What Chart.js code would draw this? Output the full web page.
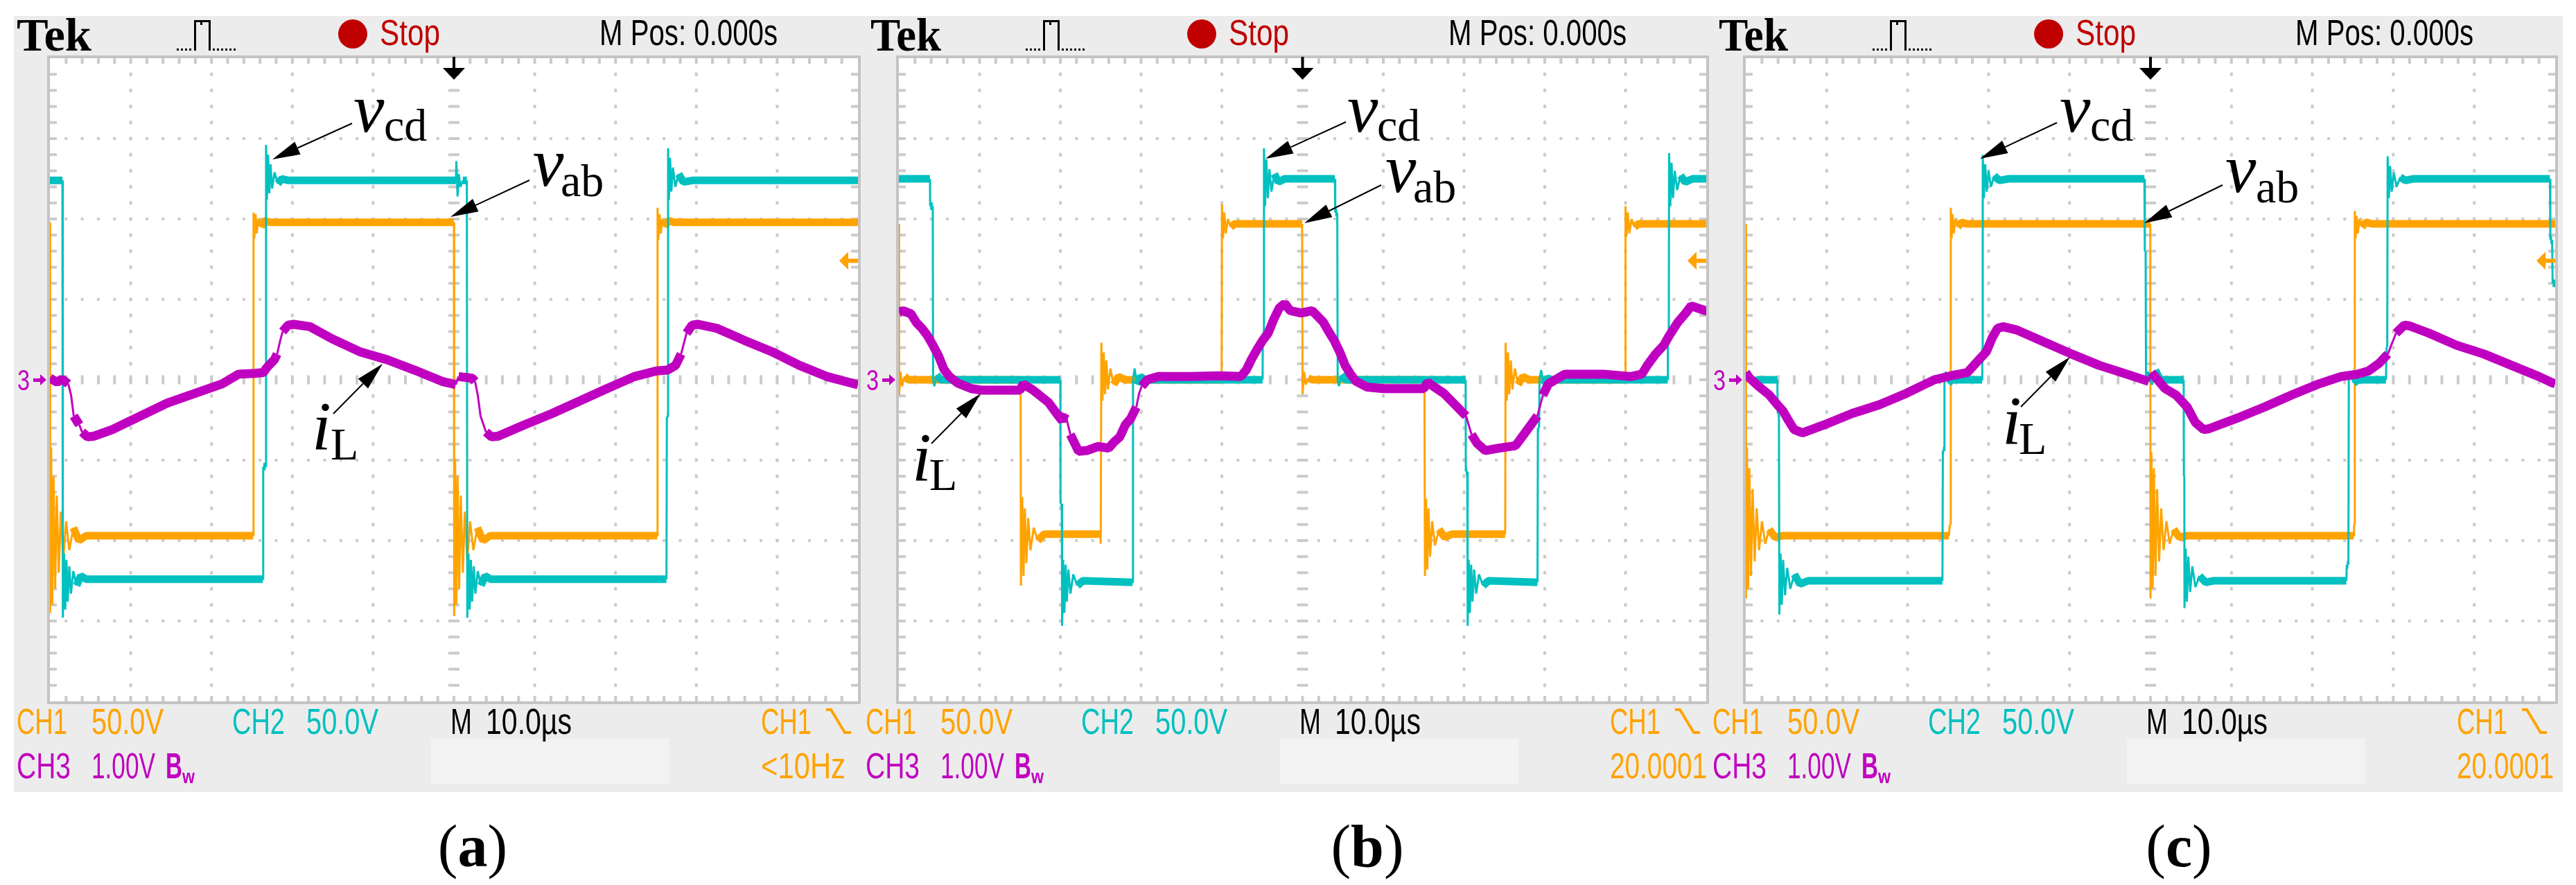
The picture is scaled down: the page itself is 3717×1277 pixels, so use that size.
<!DOCTYPE html>
<html><head><meta charset="utf-8">
<script src="https://cdn.jsdelivr.net/npm/chart.js@4.4.1/dist/chart.umd.min.js"></script>
<style>html,body{margin:0;padding:0;background:#fff;width:3717px;height:1277px;overflow:hidden;position:relative}</style>
</head><body>
<script>
// ---------- Scope settings ----------
const TIME_RANGE_US = [-50, 50];     // 10 us/div, M Pos 0.000 s at center
const VOLT_RANGE = [-200, 200];      // CH1 & CH2: 50.0 V/div, 8 divisions
const CH3_RANGE = [-4, 4];           // CH3: 1.00 V/div
const TRIGGER_LEVEL_V = 74;          // CH1 trigger level marker

// ---------- Panel (a) : [time us, value] ----------
const A_CH1 = [[-50,98],[-49.97,-145],[-49.85,-42],[-49.7,-140],[-49.55,-60],[-49.35,-130],[-49.15,-72],[-48.9,-120],[-48.65,-82],[-48.35,-112],[-48.0,-88],[-47.6,-106],[-47.1,-92],[-46.4,-100],[-45.5,-97],[-24.85,-97],[-24.8,104],[-24.7,88],[-24.55,103],[-24.4,91],[-24.2,100],[-23.9,95],[-23.5,99],[-22.8,98],[0.0,98],[0.03,-147],[0.15,-49],[0.3,-140],[0.45,-60],[0.65,-130],[0.85,-72],[1.1,-120],[1.35,-82],[1.65,-112],[2.0,-88],[2.4,-106],[2.9,-92],[3.6,-100],[4.5,-97],[25.15,-97],[25.2,107],[25.3,87],[25.45,103],[25.6,91],[25.8,100],[26.1,95],[26.5,99],[27.2,98],[50,98]];
const A_CH2 = [[-50,124],[-48.45,124],[-48.4,-148],[-48.25,-108],[-48.1,-143],[-47.95,-112],[-47.8,-138],[-47.6,-116],[-47.4,-133],[-47.1,-119],[-46.7,-128],[-46.2,-122],[-45.5,-124],[-23.65,-124],[-23.6,-54],[-23.3,-54],[-23.25,146],[-23.15,112],[-23.0,140],[-22.85,116],[-22.7,134],[-22.5,119],[-22.2,129],[-21.8,122],[-21.3,125],[-20.5,124],[0.25,124],[0.3,136],[0.45,114],[0.6,128],[0.8,120],[1.1,124],[1.6,124],[1.65,-148],[1.8,-108],[1.95,-143],[2.1,-112],[2.25,-138],[2.45,-116],[2.65,-133],[2.95,-119],[3.35,-128],[3.85,-122],[4.55,-124],[26.3,-124],[26.35,-23],[26.45,-23],[26.5,144],[26.6,112],[26.75,138],[26.9,117],[27.1,132],[27.4,120],[27.8,128],[28.4,123],[29.5,124],[50,124]];
const A_CH3 = [[-50,0.02],[-49.1,-0.03],[-48.5,0.01],[-47.73,-0.05],[-47.38,-0.19],[-47.05,-0.45],[-46.36,-0.56],[-46.02,-0.65],[-45.34,-0.71],[-44.5,-0.70],[-42.28,-0.62],[-35.48,-0.29],[-28.68,-0.05],[-26.64,0.07],[-24.6,0.08],[-23.58,0.09],[-23.24,0.14],[-22.9,0.18],[-22.22,0.25],[-21.88,0.32],[-21.54,0.47],[-21.2,0.60],[-20.52,0.68],[-19.84,0.69],[-17.8,0.66],[-15.08,0.51],[-11.67,0.35],[-8.27,0.25],[-4.87,0.12],[-1.47,-0.02],[0.23,-0.06],[0.57,0.04],[2.27,0.02],[2.61,-0.02],[2.95,-0.19],[3.29,-0.45],[3.97,-0.65],[4.65,-0.71],[5.5,-0.70],[8.73,-0.56],[12.13,-0.42],[18.93,-0.11],[22.33,0.04],[25.06,0.11],[26.41,0.12],[27.43,0.18],[28.11,0.32],[28.79,0.58],[29.47,0.68],[30.15,0.69],[32.54,0.64],[35.94,0.49],[39.34,0.35],[42.74,0.18],[46.14,0.04],[49.54,-0.05],[50,-0.06]];

// ---------- Panel (b) ----------
const B_CH1 = [[-50,97],[-49.97,-10],[-49.8,5],[-49.6,-4],[-49.3,2],[-48.8,0],[-34.92,0],[-34.88,-128],[-34.72,-73],[-34.56,-122],[-34.4,-80],[-34.2,-114],[-33.98,-86],[-33.7,-106],[-33.3,-92],[-32.8,-100],[-32.0,-96],[-25.05,-96],[-25.0,-102],[-24.92,23],[-24.78,-13],[-24.62,17],[-24.46,-9],[-24.3,12],[-24.1,-6],[-23.8,7],[-23.4,-3],[-22.8,2],[-22.0,0],[-10.02,0],[-9.98,109],[-9.85,88],[-9.7,104],[-9.5,91],[-9.25,100],[-8.9,95],[-8.4,97],[-0.05,97],[0.0,-9],[0.2,5],[0.4,-3],[0.7,1],[1.2,0],[15.1,0],[15.16,-122],[15.3,-74],[15.45,-118],[15.6,-80],[15.8,-110],[16.05,-88],[16.4,-103],[16.9,-93],[17.6,-98],[18.5,-96],[25.1,-96],[25.15,23],[25.3,-13],[25.45,17],[25.6,-9],[25.8,12],[26.0,-6],[26.3,7],[26.7,-3],[27.3,2],[28.0,0],[39.97,0],[40.0,108],[40.12,89],[40.28,104],[40.48,91],[40.75,100],[41.1,95],[41.6,97],[50,97]];
const B_CH2 = [[-50,125],[-46.15,125],[-46.12,108],[-45.8,108],[-45.76,0],[-45.6,-4],[-45.3,3],[-44.8,0],[-30.0,0],[-29.98,-77],[-29.82,-77],[-29.78,-153],[-29.65,-112],[-29.5,-145],[-29.35,-115],[-29.2,-138],[-29.0,-118],[-28.75,-133],[-28.4,-121],[-27.9,-128],[-27.2,-125],[-21.05,-126],[-21.0,0],[-20.8,7],[-20.5,-3],[-20.1,2],[-19.5,0],[-4.95,0],[-4.92,29],[-4.8,29],[-4.78,144],[-4.64,108],[-4.48,137],[-4.3,113],[-4.1,131],[-3.85,117],[-3.5,128],[-3.0,123],[-2.2,125],[4.0,125],[4.05,104],[4.3,104],[4.35,0],[4.5,-4],[4.8,3],[5.3,0],[20.2,0],[20.22,-57],[20.4,-57],[20.45,-153],[20.58,-112],[20.72,-145],[20.88,-115],[21.05,-138],[21.25,-118],[21.5,-133],[21.85,-121],[22.35,-128],[23.05,-125],[29.1,-126],[29.15,-30],[29.3,-30],[29.35,0],[29.55,6],[29.85,-3],[30.3,1],[31.0,0],[45.22,0],[45.25,22],[45.36,22],[45.4,141],[45.55,108],[45.7,135],[45.88,113],[46.1,130],[46.4,118],[46.8,127],[47.4,123],[48.3,125],[50,125]];
const B_CH3 = [[-50,0.84],[-49.5,0.86],[-48.5,0.82],[-47.82,0.71],[-47.14,0.64],[-46.46,0.55],[-45.78,0.43],[-45.1,0.30],[-44.42,0.13],[-43.74,0.04],[-42.72,-0.04],[-41.02,-0.11],[-39.65,-0.13],[-35.0,-0.13],[-34.6,-0.05],[-34.21,-0.08],[-33.5,-0.12],[-32.85,-0.17],[-31.49,-0.28],[-30.46,-0.42],[-29.78,-0.51],[-29.4,-0.42],[-28.76,-0.68],[-27.74,-0.89],[-26.72,-0.88],[-25.36,-0.83],[-24.0,-0.85],[-23.31,-0.77],[-22.63,-0.71],[-21.95,-0.56],[-21.27,-0.48],[-20.59,-0.34],[-20.25,-0.17],[-19.91,-0.08],[-19.23,0.00],[-17.87,0.04],[-13.78,0.04],[-10.38,0.05],[-7.66,0.04],[-6.98,0.12],[-6.3,0.26],[-5.62,0.38],[-4.94,0.49],[-4.26,0.58],[-3.58,0.75],[-2.9,0.89],[-2.21,0.95],[-1.53,0.86],[-0.17,0.83],[1.19,0.86],[2.55,0.72],[3.23,0.60],[3.91,0.49],[4.59,0.35],[5.27,0.18],[5.95,0.07],[6.63,-0.02],[7.99,-0.09],[10.03,-0.11],[15.0,-0.11],[15.5,-0.03],[16.17,-0.08],[17.52,-0.17],[18.89,-0.31],[20.25,-0.45],[20.93,-0.68],[21.61,-0.79],[22.63,-0.88],[24.33,-0.85],[26.37,-0.82],[27.05,-0.73],[28.07,-0.59],[29.09,-0.45],[29.77,-0.19],[30.45,-0.05],[32.49,0.07],[37.26,0.07],[40.66,0.04],[42.02,0.07],[42.7,0.18],[43.72,0.32],[44.74,0.43],[45.42,0.55],[46.44,0.71],[47.46,0.83],[48.14,0.92],[49.88,0.86],[50,0.86]];

// ---------- Panel (c) ----------
const C_CH1 = [[-50,97],[-49.97,-136],[-49.85,-42],[-49.7,-130],[-49.55,-55],[-49.35,-122],[-49.15,-68],[-48.9,-113],[-48.65,-80],[-48.35,-106],[-48.0,-88],[-47.6,-102],[-47.1,-93],[-46.4,-98],[-45.5,-97],[-24.9,-97],[-24.8,-90],[-24.7,-90],[-24.67,107],[-24.57,88],[-24.45,103],[-24.3,91],[-24.1,100],[-23.8,95],[-23.35,98],[-22.7,97],[-0.02,97],[0.0,-136],[0.12,-45],[0.27,-130],[0.42,-55],[0.62,-122],[0.82,-68],[1.07,-113],[1.32,-80],[1.62,-106],[1.97,-88],[2.37,-102],[2.87,-93],[3.57,-98],[4.5,-97],[25.1,-97],[25.15,-90],[25.21,-90],[25.24,105],[25.34,88],[25.46,102],[25.62,91],[25.82,100],[26.12,95],[26.6,98],[27.3,97],[50,97]];
const C_CH2 = [[-50,0],[-49.6,4],[-49.2,-2],[-48.5,0],[-46.1,0],[-46.05,-21],[-45.9,-21],[-45.85,-146],[-45.7,-108],[-45.55,-140],[-45.38,-112],[-45.15,-134],[-44.88,-117],[-44.5,-130],[-44.0,-121],[-43.3,-127],[-42.3,-125],[-25.7,-125],[-25.65,-44],[-25.5,-44],[-25.45,0],[-25.3,5],[-25.0,-2],[-24.5,0],[-20.8,0],[-20.78,20],[-20.74,20],[-20.72,140],[-20.58,113],[-20.42,134],[-20.22,117],[-20.0,130],[-19.7,120],[-19.3,127],[-18.7,124],[-17.5,125],[-0.75,125],[-0.7,80],[-0.6,80],[-0.55,0],[-0.3,5],[0.2,-3],[0.6,6],[1.2,0],[4.1,0],[4.13,-60],[4.18,-60],[4.2,-142],[4.35,-105],[4.5,-138],[4.68,-110],[4.9,-132],[5.17,-116],[5.55,-129],[6.05,-122],[6.8,-126],[7.8,-125],[24.2,-125],[24.25,-115],[24.45,-115],[24.5,0],[24.7,4],[25.1,-2],[25.7,0],[29.1,0],[29.15,20],[29.25,20],[29.3,139],[29.45,113],[29.6,133],[29.8,117],[30.05,129],[30.4,120],[30.85,126],[31.5,124],[32.5,125],[49.35,125],[49.4,87],[49.62,87],[49.68,60],[50,60]];
const C_CH3 = [[-50,0.09],[-49.5,0.02],[-48.43,-0.08],[-47.08,-0.19],[-46.1,-0.31],[-45.38,-0.39],[-44.7,-0.51],[-44.02,-0.62],[-43.0,-0.66],[-40.29,-0.56],[-36.89,-0.42],[-33.49,-0.31],[-30.19,-0.17],[-26.7,0.00],[-24.67,0.05],[-22.63,0.09],[-21.27,0.24],[-20.26,0.35],[-19.57,0.52],[-18.89,0.64],[-18.22,0.66],[-16.52,0.62],[-13.13,0.47],[-9.73,0.32],[-6.34,0.18],[-2.94,0.07],[-0.2,-0.02],[0.12,0.09],[1.81,-0.11],[3.17,-0.19],[4.53,-0.34],[5.54,-0.53],[6.57,-0.62],[7.2,-0.61],[10.64,-0.48],[14.04,-0.34],[17.43,-0.19],[20.83,-0.05],[23.54,0.04],[25.58,0.07],[26.94,0.11],[28.3,0.21],[29.32,0.32],[30.33,0.58],[31.35,0.68],[32.0,0.67],[34.41,0.58],[37.8,0.43],[41.2,0.32],[44.59,0.18],[47.99,0.04],[49.69,-0.04],[50,-0.05]];

// ---------- Text ----------
const HEADER_TEXTS = ['Tek', 'Stop', 'M Pos: 0.000s'];
const FOOTER_ROW1 = ['CH1', '50.0V', 'CH2', '50.0V', 'M', '10.0\u00b5s', 'CH1'];
const FOOTER_ROW2 = ['CH3', '1.00V', 'B', 'w'];
const LABEL_VCD = ['v', 'cd'], LABEL_VAB = ['v', 'ab'], LABEL_IL = ['i', 'L'];

// ---------- Styling ----------
const ORANGE = '#ffa300', CYAN = '#00c0c0', MAGENTA = '#c000c0';
const PANEL_BG = '#ececec', GRID_COL = '#cbcbcb', BORDER_COL = '#c4c4c4', STOP_RED = '#c00000';
const H = 1277, HEADER_TOP = 23, PANEL_BOTTOM = 1143, GRID_TOP = 84, GRID_BOTTOM = 1012;
const SANS = '"Liberation Sans", Arial, sans-serif', SERIF = '"Liberation Serif", "Times New Roman", serif';

const PANELS = [
  { left: 20, width: 1223, gridLeft: 72, gridRight: 1238, tekRel: -45, tekW: 108, trigText: '<10Hz', trigW: 122,
    caption: 'a', captionX: 682, ch1: A_CH1, ch2: A_CH2, ch3: A_CH3,
    notes: [
      { lab: LABEL_VCD, v: [510, 190], s: [554, 203], from: [508, 178], to: [393, 230] },
      { lab: LABEL_VAB, v: [769, 268], s: [809, 283], from: [764, 260], to: [650, 313] },
      { lab: LABEL_IL, v: [450, 648], s: [477, 663], from: [481, 597], to: [552, 525] } ] },
  { left: 1243, width: 1227, gridLeft: 1297, gridRight: 2462, tekRel: -38, tekW: 102, trigText: '20.0001', trigW: 140,
    caption: 'b', captionX: 1973, ch1: B_CH1, ch2: B_CH2, ch3: B_CH3,
    notes: [
      { lab: LABEL_VCD, v: [1944, 190], s: [1987, 203], from: [1942, 176], to: [1826, 229] },
      { lab: LABEL_VAB, v: [1999, 277], s: [2039, 292], from: [1993, 267], to: [1882, 322] },
      { lab: LABEL_IL, v: [1316, 693], s: [1341, 707], from: [1344, 640], to: [1415, 568] } ] },
  { left: 2470, width: 1228, gridLeft: 2519, gridRight: 3687, tekRel: -36, tekW: 100, trigText: '20.0001', trigW: 140,
    caption: 'c', captionX: 3144, ch1: C_CH1, ch2: C_CH2, ch3: C_CH3,
    notes: [
      { lab: LABEL_VCD, v: [2972, 190], s: [3016, 203], from: [2968, 177], to: [2857, 229] },
      { lab: LABEL_VAB, v: [3211, 277], s: [3255, 292], from: [3207, 267], to: [3094, 322] },
      { lab: LABEL_IL, v: [2889, 640], s: [2913, 655], from: [2916, 587], to: [2987, 515] } ] }
];

function txt(ctx, s, x, y, w, font, color) {
  ctx.save(); ctx.font = font; ctx.fillStyle = color; ctx.textBaseline = 'alphabetic'; ctx.textAlign = 'left';
  const m = ctx.measureText(s).width; const sx = w ? w / m : 1;
  ctx.translate(x, y); ctx.scale(sx, 1); ctx.fillText(s, 0, 0); ctx.restore();
}

function arrow(ctx, from, to, ox) {
  const [x0, y0] = [from[0] - ox, from[1]], [x1, y1] = [to[0] - ox, to[1]];
  const ang = Math.atan2(y1 - y0, x1 - x0), L = 40, hw = 10;
  const bx = x1 - L * Math.cos(ang), by = y1 - L * Math.sin(ang);
  ctx.strokeStyle = '#000'; ctx.lineWidth = 2;
  ctx.beginPath(); ctx.moveTo(x0, y0); ctx.lineTo(bx, by); ctx.stroke();
  ctx.fillStyle = '#000'; ctx.beginPath(); ctx.moveTo(x1, y1);
  ctx.lineTo(bx + hw * Math.sin(ang), by - hw * Math.cos(ang));
  ctx.lineTo(bx - hw * Math.sin(ang), by + hw * Math.cos(ang)); ctx.closePath(); ctx.fill();
}

function drawGrid(chart) {
  const { ctx, chartArea: ca, scales: { x, yI } } = chart;
  ctx.save();
  ctx.fillStyle = '#fff'; ctx.fillRect(ca.left, ca.top, ca.width, ca.height);
  ctx.fillStyle = GRID_COL;
  for (let d = -3; d <= 3; d++) {
    const py = yI.getPixelForValue(d);
    for (let k = -24; k <= 24; k++) {
      const px = x.getPixelForValue(k * 2);
      if (d === 0) ctx.fillRect(px - 2, py - 6.5, 4, 13); else ctx.fillRect(px - 2, py - 2, 4, 4);
    }
  }
  for (let i = -4; i <= 4; i++) {
    const px = x.getPixelForValue(i * 10);
    for (let k = -19; k <= 19; k++) {
      const py = yI.getPixelForValue(k * 0.2);
      if (i === 0) ctx.fillRect(px - 8, py - 2, 16, 4); else ctx.fillRect(px - 2, py - 2.5, 4, 5);
    }
  }
  for (let k = -24; k <= 24; k++) {
    const px = x.getPixelForValue(k * 2);
    ctx.fillRect(px - 2, ca.top, 4, 8); ctx.fillRect(px - 2, ca.bottom - 8, 4, 8);
  }
  for (let k = -19; k <= 19; k++) {
    const py = yI.getPixelForValue(k * 0.2);
    ctx.fillRect(ca.left, py - 2, 10, 4); ctx.fillRect(ca.right - 10, py - 2, 10, 4);
  }
  ctx.strokeStyle = BORDER_COL; ctx.lineWidth = 4;
  ctx.strokeRect(ca.left - 2, ca.top - 2, ca.width + 4, ca.height + 4);
  ctx.restore();
}

function scopePlugin(p) {
  return {
    id: 'scope',
    beforeDraw(chart) {
      const ctx = chart.ctx, ca = chart.chartArea, gx = ca.left - 3;
      ctx.save();
      ctx.fillStyle = PANEL_BG; ctx.fillRect(0, HEADER_TOP, chart.width, PANEL_BOTTOM - HEADER_TOP);
      ctx.fillStyle = '#f3f3f3'; ctx.fillRect(gx + 553, 1066, 344, 65);
      // header
      txt(ctx, HEADER_TEXTS[0], gx + p.tekRel, 73, p.tekW, 'bold 68px ' + SERIF, '#000');
      ctx.fillStyle = '#000';
      for (let xx = gx + 186; xx < gx + 209; xx += 6) ctx.fillRect(xx, 70, 3, 3);
      ctx.fillRect(gx + 211, 29, 3, 44); ctx.fillRect(gx + 211, 29, 9, 3);
      ctx.fillRect(gx + 220, 29, 3, 7); ctx.fillRect(gx + 223, 29, 11, 3);
      ctx.fillRect(gx + 232, 29, 3, 44);
      for (let xx = gx + 238; xx < gx + 270; xx += 6) ctx.fillRect(xx, 70, 3, 3);
      ctx.fillStyle = STOP_RED; ctx.beginPath(); ctx.ellipse(gx + 440, 49, 21, 21, 0, 0, Math.PI * 2); ctx.fill();
      txt(ctx, HEADER_TEXTS[1], gx + 479, 65, 87, '51px ' + SANS, STOP_RED);
      txt(ctx, HEADER_TEXTS[2], gx + 796, 65, 257, '51px ' + SANS, '#000');
      // footer row 1
      const F = '51px ' + SANS;
      txt(ctx, FOOTER_ROW1[0], gx - 45, 1059, 73, F, ORANGE);
      txt(ctx, FOOTER_ROW1[1], gx + 63, 1059, 104, F, ORANGE);
      txt(ctx, FOOTER_ROW1[2], gx + 266, 1059, 76, F, CYAN);
      txt(ctx, FOOTER_ROW1[3], gx + 373, 1059, 104, F, CYAN);
      txt(ctx, FOOTER_ROW1[4], gx + 581, 1059, 31, F, '#000');
      txt(ctx, FOOTER_ROW1[5], gx + 632, 1059, 124, F, '#000');
      txt(ctx, FOOTER_ROW1[6], gx + 1029, 1059, 73, F, ORANGE);
      ctx.strokeStyle = ORANGE; ctx.lineWidth = 4; ctx.beginPath();
      ctx.moveTo(gx + 1123, 1024); ctx.lineTo(gx + 1130, 1024); ctx.lineTo(gx + 1150, 1057); ctx.lineTo(gx + 1159, 1057); ctx.stroke();
      // footer row 2
      txt(ctx, FOOTER_ROW2[0], gx - 45, 1123, 78, F, MAGENTA);
      txt(ctx, FOOTER_ROW2[1], gx + 63, 1123, 92, F, MAGENTA);
      txt(ctx, FOOTER_ROW2[2], gx + 170, 1123, 24, 'bold 51px ' + SANS, MAGENTA);
      txt(ctx, FOOTER_ROW2[3], gx + 194, 1130, 18, 'bold 28px ' + SANS, MAGENTA);
      txt(ctx, p.trigText, gx + 1029, 1123, p.trigW, F, ORANGE);
      // caption
      const cx = p.captionX - p.left;
      ctx.font = '86px ' + SERIF; const wl = ctx.measureText('(').width, wr = ctx.measureText(')').width;
      ctx.font = 'bold 86px ' + SERIF; const wa = ctx.measureText(p.caption).width;
      let x0 = cx - (wl + wa + wr) / 2;
      ctx.fillStyle = '#000'; ctx.textBaseline = 'alphabetic';
      ctx.font = '86px ' + SERIF; ctx.fillText('(', x0, 1250);
      ctx.font = 'bold 86px ' + SERIF; ctx.fillText(p.caption, x0 + wl, 1250);
      ctx.font = '86px ' + SERIF; ctx.fillText(')', x0 + wl + wa, 1250);
      ctx.restore();
    },
    beforeDatasetsDraw(chart) { drawGrid(chart); },
    afterDatasetsDraw(chart) {
      const { ctx, chartArea: ca, scales: { x, yV, yI } } = chart;
      ctx.save();
      // trigger position (top)
      const tx = x.getPixelForValue(0);
      ctx.fillStyle = '#000'; ctx.fillRect(tx - 2, 82, 4, 17);
      ctx.beginPath(); ctx.moveTo(tx - 16, 98); ctx.lineTo(tx + 16, 98); ctx.lineTo(tx, 115); ctx.closePath(); ctx.fill();
      // trigger level (right)
      const ty = yV.getPixelForValue(TRIGGER_LEVEL_V);
      ctx.fillStyle = ORANGE; ctx.beginPath();
      ctx.moveTo(ca.right - 27, ty); ctx.lineTo(ca.right - 14, ty - 13); ctx.lineTo(ca.right - 14, ty + 13); ctx.closePath(); ctx.fill();
      ctx.fillRect(ca.right - 15, ty - 3, 15, 6);
      // CH3 ground marker
      const gy = yI.getPixelForValue(0);
      txt(ctx, '3', ca.left - 47, gy + 15, 18, '43px ' + SANS, MAGENTA);
      ctx.fillStyle = MAGENTA; ctx.fillRect(ca.left - 24, gy - 2, 12, 5);
      ctx.beginPath(); ctx.moveTo(ca.left - 5, gy); ctx.lineTo(ca.left - 14, gy - 8); ctx.lineTo(ca.left - 14, gy + 8); ctx.closePath(); ctx.fill();
      // annotations
      for (const n of p.notes) {
        txt(ctx, n.lab[0], n.v[0] - p.left, n.v[1], 0, 'italic 100px ' + SERIF, '#000');
        txt(ctx, n.lab[1], n.s[0] - p.left, n.s[1], 0, '66px ' + SERIF, '#000');
        arrow(ctx, n.from, n.to, p.left);
      }
      ctx.restore();
    }
  };
}

function segWidth(c, band) {
  const dx = Math.abs(c.p1.x - c.p0.x), dy = Math.abs(c.p1.y - c.p0.y);
  return (dy > 2.5 * dx && dy > 6) ? 3 : band;
}

function dataset(pairs, color, axis, band, order) {
  return {
    data: pairs.map(([t, v]) => ({ x: t, y: v })), xAxisID: 'x', yAxisID: axis,
    borderColor: color, backgroundColor: color, borderWidth: band, pointRadius: 0,
    tension: 0, fill: false, order, clip: 0, borderJoinStyle: 'bevel', borderCapStyle: 'butt',
    segment: { borderWidth: c => segWidth(c, band) }
  };
}

for (const p of PANELS) {
  const canvas = document.createElement('canvas');
  canvas.width = p.width; canvas.height = H;
  canvas.style.cssText = `position:absolute;left:${p.left}px;top:0;width:${p.width}px;height:${H}px`;
  document.body.appendChild(canvas);
  new Chart(canvas, {
    type: 'line',
    data: { datasets: [
      dataset(p.ch3, MAGENTA, 'yI', 13, 1),
      dataset(p.ch2, CYAN, 'yV', 11, 2),
      dataset(p.ch1, ORANGE, 'yV', 11, 3)
    ] },
    options: {
      responsive: false, animation: false, devicePixelRatio: 1, events: [],
      layout: { padding: { left: p.gridLeft - p.left, right: p.left + p.width - p.gridRight, top: GRID_TOP, bottom: H - GRID_BOTTOM } },
      scales: {
        x: { type: 'linear', min: TIME_RANGE_US[0], max: TIME_RANGE_US[1], display: false },
        yV: { type: 'linear', min: VOLT_RANGE[0], max: VOLT_RANGE[1], display: false },
        yI: { type: 'linear', min: CH3_RANGE[0], max: CH3_RANGE[1], display: false }
      },
      plugins: { legend: { display: false }, tooltip: { enabled: false }, title: { display: false } }
    },
    plugins: [scopePlugin(p)]
  });
}
</script>
</body></html>
